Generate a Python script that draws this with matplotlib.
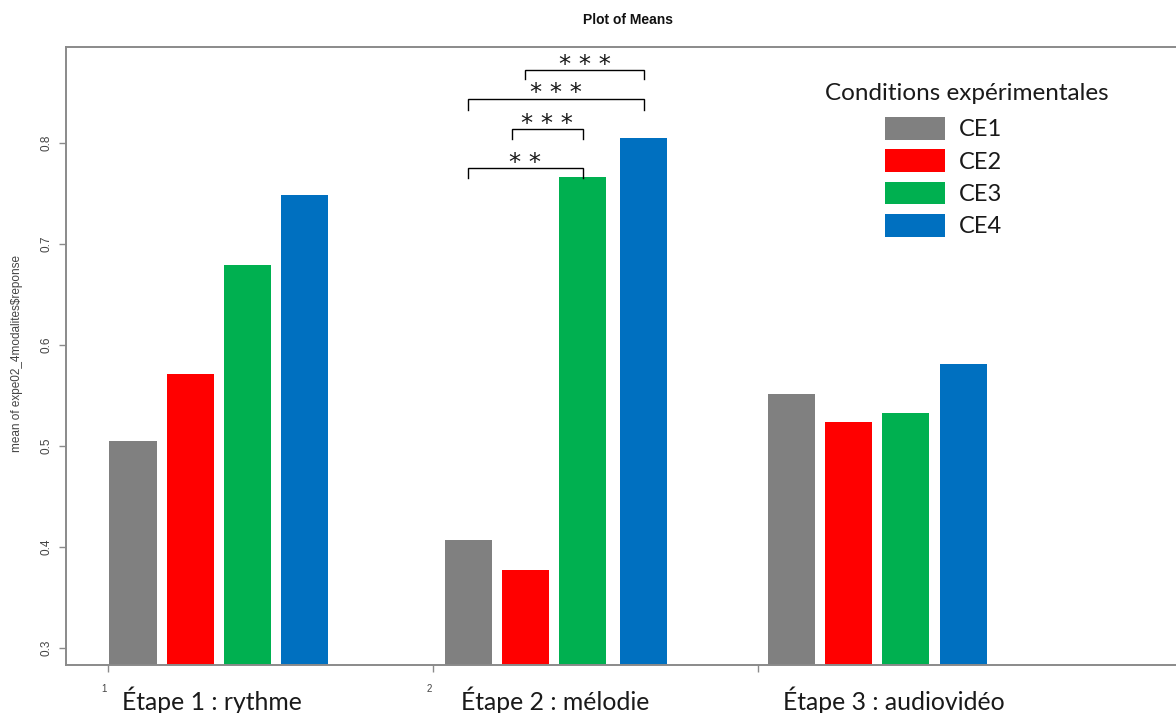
import matplotlib
matplotlib.use("Agg")
import matplotlib.pyplot as plt
from matplotlib.patches import Patch

# ---- data ----
stages = ["Étape 1 : rythme", "Étape 2 : mélodie", "Étape 3 : audiovidéo"]
conditions = ["CE1", "CE2", "CE3", "CE4"]
ce1 = [0.505, 0.407, 0.551]
ce2 = [0.571, 0.377, 0.524]
ce3 = [0.679, 0.766, 0.533]
ce4 = [0.748, 0.805, 0.581]
colors = ["#808080", "#FF0000", "#00B050", "#0070C0"]
yticks = [0.3, 0.4, 0.5, 0.6, 0.7, 0.8]
# significance brackets within stage 2: (cond i, cond j, label)
brackets = [(0, 2, "**"), (1, 2, "***"), (0, 3, "***"), (1, 3, "***")]

series = [ce1, ce2, ce3, ce4]

W, H = 1176, 713
fig = plt.figure(figsize=(W / 100, H / 100), dpi=100)
left_px, right_px, top_px, bot_px = 66, 1200, 47, 665
ax = fig.add_axes([left_px / W, (H - bot_px) / H, (right_px - left_px) / W, (bot_px - top_px) / H])

px_per_unit = 325.0
tick1_px = 108
ax.set_xlim(1 - (tick1_px - left_px) / px_per_unit, 1 + (right_px - tick1_px) / px_per_unit)
ax.set_ylim(0.283, 0.895)

group_start = [0.077, 0.108, 0.103]
step = 0.176
width = 0.145
positions = {}
for g in range(len(stages)):
    for k, vals in enumerate(series):
        x = (g + 1) + group_start[g] + k * step
        if g == 1 and k == 3:
            x += 0.012
        positions[(g, k)] = x
        ax.bar(x, vals[g] - 0.283, bottom=0.283, width=width, color=colors[k],
               edgecolor="none", zorder=2)

# brackets on stage 2
levels = [(0.775, 0.765, 0.780), (0.814, 0.804, 0.819), (0.844, 0.833, 0.849), (0.872, 0.863, 0.877)]
for (i, j, lab), (ytop, yleg, ytxt) in zip(brackets, levels):
    xi, xj = positions[(1, i)], positions[(1, j)]
    if lab == "***" and i == 1 and j == 2:
        xi -= 0.04
    ax.plot([xi, xi, xj, xj], [yleg, ytop, ytop, yleg], color="black", lw=1.0,
            solid_joinstyle="miter", zorder=3)
    ax.text((xi + xj) / 2, ytxt, " ".join(lab), ha="center", va="center",
            fontsize=17.5, family="DejaVu Sans", color="#1a1a1a")

# spines
for s in ["left", "top", "bottom"]:
    ax.spines[s].set_color("#8a8a8a")
    ax.spines[s].set_linewidth(1.4)
ax.spines["right"].set_visible(False)

ax.set_yticks(yticks)
ax.set_yticklabels([f"{v:.1f}" for v in yticks], rotation=90, va="center",
                   fontsize=8.5, color="#444444", family="Liberation Sans")
ax.tick_params(axis="y", length=5, color="#8a8a8a", width=1.0, pad=5)
ax.set_xticks([1, 2, 3])
ax.set_xticklabels([])
ax.tick_params(axis="x", length=5, color="#8a8a8a", width=1.0)

for g in range(2):
    ax.annotate(str(g + 1), xy=(g + 1, 0.283), xytext=(-3, -17),
                textcoords="offset points", ha="center", va="center",
                fontsize=7, color="#444444", family="Liberation Sans", annotation_clip=False)

stage_centers_px = [212, 555, 894]
for lab, cx in zip(stages, stage_centers_px):
    fig.text(cx / W, (H - 700) / H, lab, ha="center", va="center", fontsize=17.8,
             family="Lato", color="#1a1a1a")

fig.text(17 / W, (H - 353) / H, "mean of expe02_4modalites$reponse", rotation=90,
         ha="center", va="center", fontsize=8.5, color="#444444", family="Liberation Sans")
fig.text(628 / W, (H - 20) / H, "Plot of Means", ha="center", va="center",
         fontsize=10, fontweight="bold", family="Liberation Sans", color="#111111")

fig.text(825 / W, (H - 93) / H, "Conditions expérimentales", ha="left", va="center",
         fontsize=17.5, family="Lato", color="#1a1a1a")
handles = [Patch(facecolor=c, edgecolor="none") for c in colors]
leg = fig.legend(handles, conditions,
                 loc="upper left", bbox_to_anchor=(885 / W, (H - 117) / H),
                 frameon=False, handlelength=2.55, handleheight=1.1, labelspacing=0.38,
                 handletextpad=0.6, borderaxespad=0, borderpad=0,
                 prop={"family": "Lato", "size": 17})
for t in leg.get_texts():
    t.set_color("#1a1a1a")

fig.savefig("out.png", dpi=100)
